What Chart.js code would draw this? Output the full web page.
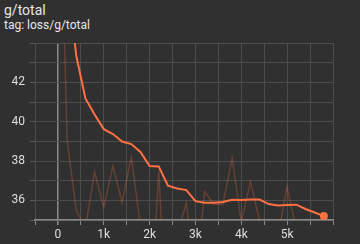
<!DOCTYPE html>
<html>
<head>
<meta charset="utf-8">
<script src="https://cdn.jsdelivr.net/npm/chart.js@4.4.1/dist/chart.umd.min.js"></script>
<style>
  html, body { margin: 0; padding: 0; background: #303030; }
  #wrap { position: relative; width: 360px; height: 244px; overflow: hidden; }
  #title { position: absolute; left: 4px; top: 2px; font: 14px Roboto, sans-serif; color: #e6e6e6; }
  #tag { position: absolute; left: 4px; top: 18px; font: 12px Roboto, sans-serif; color: #e6e6e6; }
  canvas { position: absolute; left: 0; top: 0; }
</style>
</head>
<body>
<div id="wrap">
  <div id="title">g/total</div>
  <div id="tag">tag: loss/g/total</div>
  <canvas id="lossChart" width="360" height="244"></canvas>
</div>
<script>
// steps logged every 200
var steps = [0, 200, 400, 600, 800, 1000, 1200, 1400, 1600, 1800, 2000, 2200, 2400, 2600, 2800,
             3000, 3200, 3400, 3600, 3800, 4000, 4200, 4400, 4600, 4800, 5000, 5200, 5400, 5600, 5800];
var rawValues = [57, 39.1, 35.5, 34.6, 37.45, 35.65, 37.75, 35.9, 38.2, 34.7, 29.5, 37.5, 28, 34.3, 35.85,
                 31.9, 36.45, 35.8, 35.8, 38.15, 34.9, 36.95, 34.95, 34.5, 34.2, 36.7, 34.45, 34.6, 34.8, 34.9];
var smoothedValues = [57, 47.5, 43.35, 41.18, 40.36, 39.62, 39.37, 38.99, 38.86, 38.46, 37.74, 37.72, 36.75, 36.6, 36.52,
                      35.96, 35.88, 35.88, 35.92, 36.03, 36.02, 36.04, 36.04, 35.81, 35.74, 35.76, 35.78, 35.56, 35.38, 35.2];
var xLabels = [0, 1000, 2000, 3000, 4000, 5000];
var yLabels = [36, 38, 40, 42];

function toPoints(vals) {
    return steps.map(function (s, i) { return { x: s, y: vals[i] }; });
}

var ctx = document.getElementById("lossChart");
var lossChart = new Chart(ctx, {
    type: 'line',
    data: {
        datasets: [{
            label: 'smoothed',
            data: toPoints(smoothedValues),
            borderColor: '#ff7043',
            backgroundColor: '#ff7043',
            borderWidth: 2,
            tension: 0,
            order: 0,
            pointRadius: function (c) { return c.dataIndex === steps.length - 1 ? 4 : 0; },
            pointBorderWidth: 0
        }, {
            label: 'raw',
            data: toPoints(rawValues),
            borderColor: 'rgba(255, 112, 67, 0.25)',
            borderWidth: 1.5,
            tension: 0,
            order: 1,
            pointRadius: 0
        }]
    },
    options: {
        responsive: false,
        animation: false,
        devicePixelRatio: 1,
        layout: { padding: { top: 43, right: 27, left: 0, bottom: 0 } },
        plugins: { legend: { display: false }, tooltip: { enabled: false } },
        scales: {
            x: {
                type: 'linear',
                min: -500,
                max: 6000,
                afterFit: function (scale) { scale.height = 24; },
                border: { color: '#8a8a8a', width: 1.5 },
                grid: {
                    color: function (c) { return c.tick && c.tick.value === 0 ? '#8a8a8a' : '#4c4c4c'; },
                    lineWidth: function (c) { return c.tick && c.tick.value === 0 ? 1.5 : 1; },
                    tickColor: '#8a8a8a',
                    tickLength: 5
                },
                ticks: {
                    stepSize: 500,
                    autoSkip: false,
                    maxRotation: 0,
                    padding: 3,
                    color: '#dedede',
                    font: { family: 'Roboto', size: 12 },
                    callback: function (v) {
                        if (xLabels.indexOf(v) < 0) return '';
                        return v === 0 ? '0' : (v / 1000) + 'k';
                    }
                }
            },
            y: {
                min: 35,
                max: 44,
                afterFit: function (scale) { scale.width = 35; },
                border: { display: false },
                grid: { color: '#4c4c4c', tickColor: '#5a5a5a', tickLength: 5 },
                ticks: {
                    stepSize: 1,
                    padding: 5,
                    color: '#dedede',
                    font: { family: 'Roboto', size: 12 },
                    callback: function (v) { return yLabels.indexOf(v) >= 0 ? String(v) : ''; }
                }
            }
        }
    }
});
</script>
</body>
</html>
